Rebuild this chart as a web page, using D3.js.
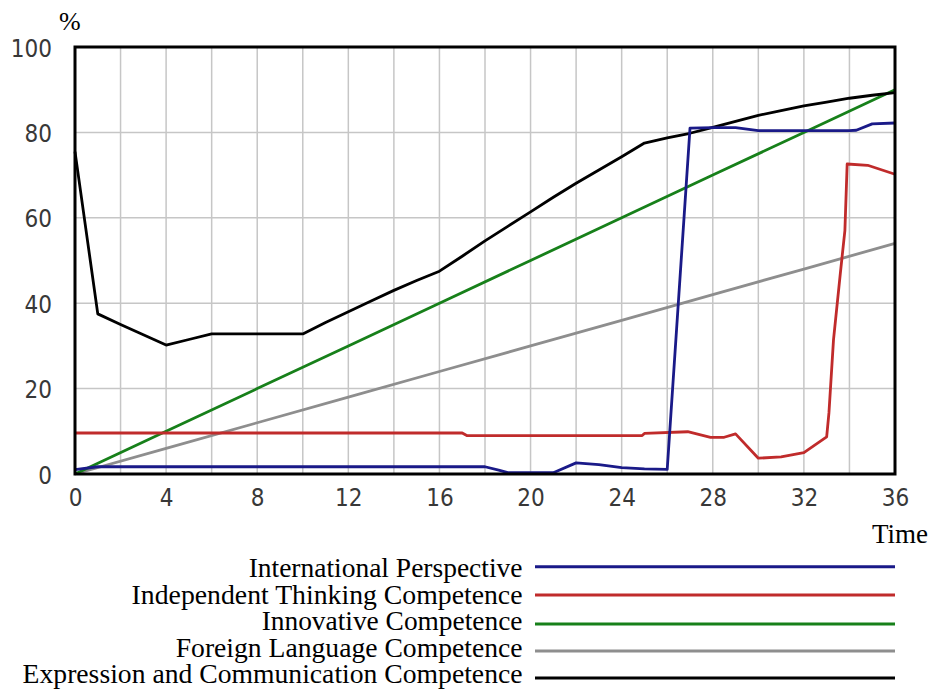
<!DOCTYPE html>
<html><head><meta charset="utf-8">
<script src="https://cdn.jsdelivr.net/npm/d3@7"></script>
<style>
html,body{margin:0;padding:0;background:#fff;}
svg{display:block;}
.tick text{font-family:"DejaVu Sans Condensed","DejaVu Sans",sans-serif;font-stretch:condensed;fill:#383838;}
</style></head>
<body>
<svg id="chart" width="933" height="690"></svg>
<script>
// ---- data ----
const seriesNames = ["International Perspective","Independent Thinking Competence","Innovative Competence","Foreign Language Competence","Expression and Communication Competence"];
const seriesColors = ["#1a1a88","#c02b2b","#17801a","#8e8e8e","#000000"];

const timeBlue = [0,1,18,18.6,19,21,22,23,24,25,26,27,28,29,30,31,32,33,34,34.3,35,36];
const valBlue  = [1.0,1.7,1.7,0.9,0.3,0.3,2.6,2.2,1.5,1.2,1.1,81,81.1,81.1,80.4,80.4,80.4,80.4,80.4,80.5,82,82.2];

const timeRed = [0,17,17.2,24.9,25,26.9,27.9,28.5,29,30,31,32,33,33.1,33.3,33.6,33.8,33.9,34.8,36];
const valRed  = [9.6,9.6,9.0,9.0,9.5,9.9,8.6,8.6,9.4,3.7,4.0,5.0,8.7,14.3,31.4,47,57,72.6,72.3,70.2];

const timeGreen = [0,4,8,12,16,20,24,28,32,36];
const valGreen  = [0,10,20,30,40,50,60,70,80,90];

const timeGray = [0,4,8,12,16,20,24,28,32,36];
const valGray  = [0,6,12,18,24,30,36,42,48,54];

const timeBlack = [0,1,2,3,4,5,6,7,8,9,10,11,12,13,14,15,16,17,18,19,20,21,22,23,24,25,26,27,28,29,30,31,32,33,34,35,36];
const valBlack  = [75.5,37.5,35,32.6,30.2,31.5,32.8,32.8,32.8,32.8,32.8,35.5,38,40.5,43,45.3,47.5,51,54.6,58,61.4,64.8,68.1,71.2,74.3,77.5,78.7,79.8,81.2,82.6,84,85.1,86.2,87.1,88,88.7,89.3];

const xTicks = [0,4,8,12,16,20,24,28,32,36];
const yTicks = [0,20,40,60,80,100];
const xGrid = [2,4,6,8,10,12,14,16,18,20,22,24,26,28,30,32,34];
const yGrid = [20,40,60,80];

// ---- layout ----
const svg = d3.select("#chart");
const L = 75, R = 895, T = 47, B = 474;
const x = d3.scaleLinear().domain([0,36]).range([L,R]);
const y = d3.scaleLinear().domain([0,100]).range([B,T]);

// grid
svg.append("g").selectAll("line").data(xGrid).join("line")
  .attr("x1",d=>x(d)).attr("x2",d=>x(d)).attr("y1",T).attr("y2",B)
  .attr("stroke","#c6c6c6").attr("stroke-width",1.5);
svg.append("g").selectAll("line").data(yGrid).join("line")
  .attr("x1",L).attr("x2",R).attr("y1",d=>y(d)).attr("y2",d=>y(d))
  .attr("stroke","#c6c6c6").attr("stroke-width",1.5);

// axes labels
const yAxis = d3.axisLeft(y).tickValues(yTicks).tickSize(0).tickPadding(23);
const gy = svg.append("g").attr("transform",`translate(${L},0)`).call(yAxis);
gy.select(".domain").remove();
gy.selectAll("text").attr("font-size",24).attr("dy","0.38em");

const xAxis = d3.axisBottom(x).tickValues(xTicks).tickSize(0).tickPadding(15);
const gx = svg.append("g").attr("transform",`translate(0,${B})`).call(xAxis);
gx.select(".domain").remove();
gx.selectAll("text").attr("font-size",24);

// lines
const series = [
  {t:timeBlue, v:valBlue},
  {t:timeRed, v:valRed},
  {t:timeGreen, v:valGreen},
  {t:timeGray, v:valGray},
  {t:timeBlack, v:valBlack}
];
const line = d3.line().x(d=>x(d[0])).y(d=>y(d[1]));
const order = [3,2,1,4,0];
order.forEach(i=>{
  const s = series[i];
  svg.append("path").datum(s.t.map((t,k)=>[t,s.v[k]]))
    .attr("d",line).attr("fill","none")
    .attr("stroke",seriesColors[i]).attr("stroke-width",2.8)
    .attr("stroke-linejoin","round");
});

// frame
svg.append("rect").attr("x",L).attr("y",T).attr("width",R-L).attr("height",B-T)
  .attr("fill","none").attr("stroke","#000").attr("stroke-width",3);

// unit labels
const serif = "Liberation Serif, Times New Roman, serif";
svg.append("text").attr("x",59).attr("y",30).text("%")
  .attr("font-family",serif).attr("font-size",26);
svg.append("text").attr("x",928).attr("y",543).attr("text-anchor","end").text("Time")
  .attr("font-family",serif).attr("font-size",27);

// legend
const legLineY = [566.7,595,624,651,678];
const legBase = [576.7,604,630,656.5,682.5];
const legTextW = [274,391,261,347,500];
const legRight = 522.5;
const lg = svg.append("g");
seriesNames.forEach((n,i)=>{
  const t = lg.append("text").attr("x",0).attr("y",0).attr("text-anchor","end")
    .attr("font-family",serif).attr("font-size",26.5).text(n);
  const w = t.node().getComputedTextLength();
  t.attr("transform",`translate(${legRight},${legBase[i]}) scale(${legTextW[i]/w},1)`);
  lg.append("line").attr("x1",535).attr("x2",895).attr("y1",legLineY[i]).attr("y2",legLineY[i])
    .attr("stroke",seriesColors[i]).attr("stroke-width",3);
});
</script>
</body></html>
